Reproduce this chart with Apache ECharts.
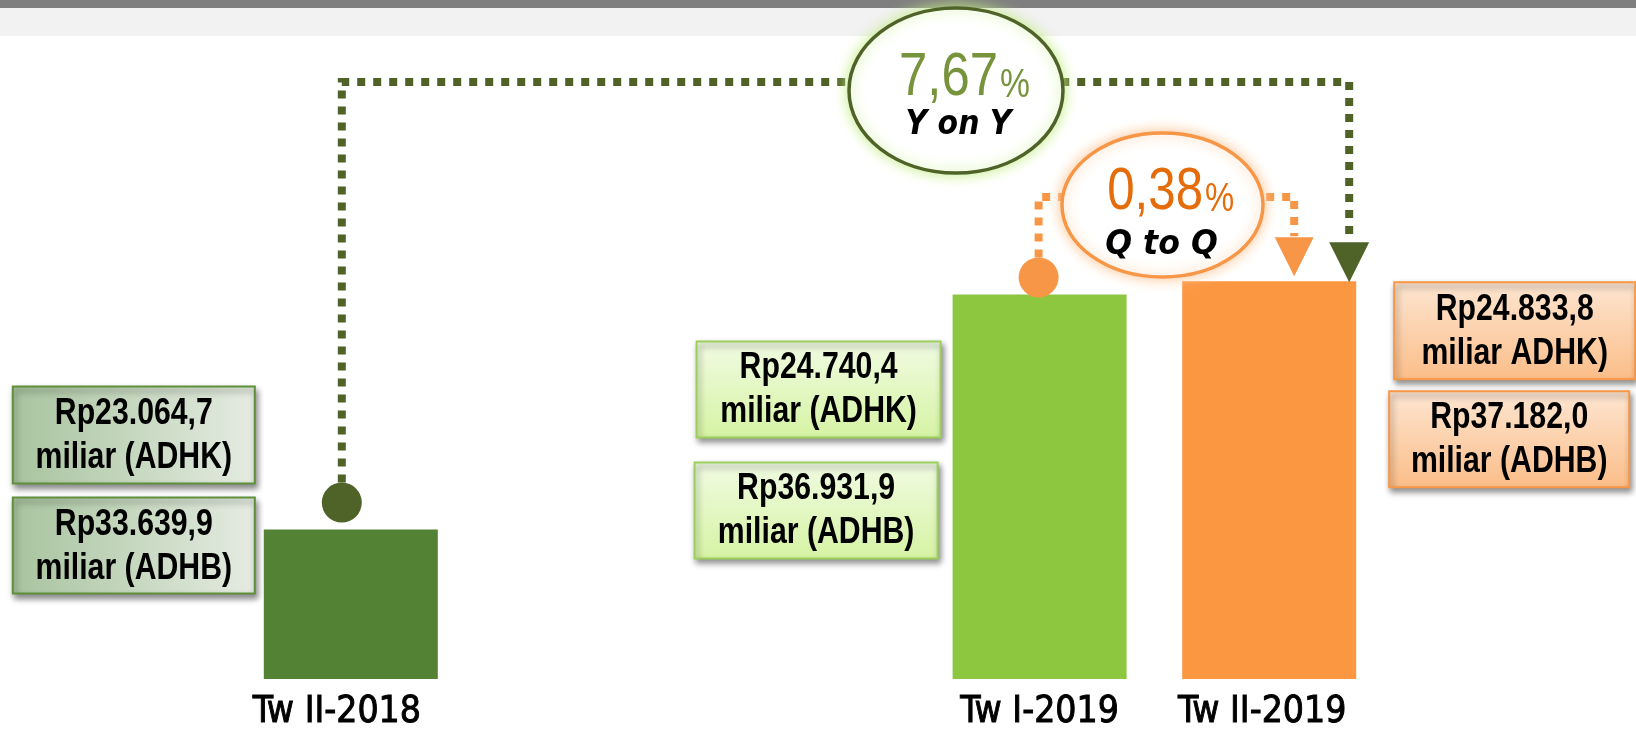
<!DOCTYPE html>
<html>
<head>
<meta charset="utf-8">
<script src="https://cdn.jsdelivr.net/npm/echarts@6/dist/echarts.min.js"></script>
<style>
  html, body { margin: 0; padding: 0; background: #fff; }
  #chart { width: 1636px; height: 734px; }
</style>
</head>
<body>
<div id="chart"></div>
<script>
// quarters (blank slots keep the gap between 2018 and 2019)
const categories = ['Tw II-2018', '', '', 'Tw I-2019', 'Tw II-2019'];
// PDRB, miliar rupiah
const adhkValues = [23064.7, null, null, 24740.4, 24833.8];
const adhbValues = [33639.9, null, null, 36931.9, 37182.0];
const adhkNotes = ['miliar (ADHK)', '', '', 'miliar (ADHK)', 'miliar ADHK)'];
const adhbNotes = ['miliar (ADHB)', '', '', 'miliar (ADHB)', 'miliar (ADHB)'];
const yoyLabel = 'Y on Y';
const qtqLabel = 'Q to Q';

const SANS = "'Liberation Sans',Arial,sans-serif";
const COND = "'DejaVu Sans Condensed','Liberation Sans',sans-serif";
const BOLDIT = "'DejaVu Sans',Verdana,sans-serif";
const barColors = ['#548235', null, null, '#8dc63f', '#fb9741'];
const BAR_W = 174;

function rp(v) {
  const [i, d] = v.toFixed(1).split('.');
  return 'Rp' + i.replace(/\B(?=(\d{3})+(?!\d))/g, '.') + ',' + d;
}
function growth(now, before) {
  return ((now / before - 1) * 100).toFixed(2).replace('.', ',');
}

const chart = echarts.init(document.getElementById('chart'));

chart.setOption({
  animation: false,
  grid: { left: 236, right: 252, top: 258, bottom: 55 },
  xAxis: {
    type: 'category',
    data: categories.map((c, i) => ({
      value: c,
      // the printed labels sit a little left of their bars
      textStyle: { padding: [0, i === 0 ? 28 : (i === 4 ? 14 : 0), 0, 0] }
    })),
    axisLine: { show: false },
    axisTick: { show: false },
    axisLabel: {
      interval: 0,
      margin: 15,
      color: '#000',
      fontSize: 37,
      fontFamily: COND,
      textBorderColor: '#000',
      textBorderWidth: 0.9
    }
  },
  yAxis: {
    type: 'value',
    min: 22000,
    max: 25000,
    show: false,
    splitLine: { show: false }
  },
  series: [{
    type: 'bar',
    barWidth: BAR_W,
    data: adhkValues.map((v, i) => v == null ? null : { value: v, itemStyle: { color: barColors[i] } })
  }]
});

// pixel anchors of the three bars (top centre)
const px = i => chart.convertToPixel({ gridIndex: 0 }, [i, adhkValues[i]]);
const b1 = px(0), b2 = px(3), b3 = px(4);
const half = BAR_W / 2;

const greenBox = {
  type: 'linear', x: 0, y: 0, x2: 1, y2: 0,
  colorStops: [{ offset: 0, color: '#a8c39e' }, { offset: 1, color: '#e5ece2' }]
};
const limeBox = {
  type: 'linear', x: 0, y: 0, x2: 0, y2: 1,
  colorStops: [{ offset: 0, color: '#f0fbe3' }, { offset: 1, color: '#d6f3a3' }]
};
const orangeBox = {
  type: 'linear', x: 0, y: 0, x2: 0, y2: 1,
  colorStops: [{ offset: 0, color: '#fde6d2' }, { offset: 1, color: '#fbbd88' }]
};

function box(x, y, w, h, fill, stroke, text) {
  return {
    type: 'group', x: x, y: y, z: 100,
    children: [
      {
        type: 'rect', shape: { x: 0, y: 0, width: w, height: h },
        style: {
          fill: fill, stroke: stroke, lineWidth: 2,
          shadowBlur: 6, shadowOffsetX: 2, shadowOffsetY: 4, shadowColor: 'rgba(0,0,0,0.45)'
        }
      },
      {
        type: 'text', x: w / 2, y: h / 2 + 1, scaleX: 0.84,
        style: {
          text: text, fill: '#000', font: 'bold 36px ' + SANS, lineHeight: 44,
          textAlign: 'center', textVerticalAlign: 'middle', align: 'center', verticalAlign: 'middle'
        }
      }
    ]
  };
}

function label(x, y, text, font, color, align, sx) {
  return {
    type: 'text', x: x, y: y, z: 120, scaleX: sx,
    style: {
      text: text, font: font, fill: color,
      textAlign: align, textVerticalAlign: 'middle', align: align, verticalAlign: 'middle'
    }
  };
}

const dashG = { stroke: '#4f6228', lineWidth: 8, lineDash: [8, 8], fill: null };
const dashO = { stroke: '#f79646', lineWidth: 8, lineDash: [8, 8], fill: null };

const graphics = [
  // page bands
  { type: 'rect', z: 0, shape: { x: 0, y: 0, width: 1636, height: 8 }, style: { fill: '#7f7f7f' } },
  { type: 'rect', z: 0, shape: { x: 0, y: 8, width: 1636, height: 28 }, style: { fill: '#f2f2f2' } },

  // Y on Y connector
  {
    type: 'polyline', z: 90,
    shape: { points: [[b1[0] - 9, b1[1] - 47], [b1[0] - 9, 82], [b3[0] + 80, 82], [b3[0] + 80, b3[1] - 40]] },
    style: dashG
  },
  { type: 'circle', z: 91, shape: { cx: b1[0] - 9, cy: b1[1] - 27, r: 20 }, style: { fill: '#4f6228' } },
  {
    type: 'polygon', z: 91,
    shape: { points: [[b3[0] + 60, b3[1] - 39], [b3[0] + 100, b3[1] - 39], [b3[0] + 80, b3[1] + 1]] },
    style: { fill: '#4f6228' }
  },

  // Q to Q connector
  {
    type: 'polyline', z: 90,
    shape: { points: [[b2[0] - 1, b2[1] - 37], [b2[0] - 1, 197], [b3[0] + 25, 197], [b3[0] + 25, b3[1] - 45]] },
    style: dashO
  },
  { type: 'circle', z: 91, shape: { cx: b2[0] - 1, cy: b2[1] - 17, r: 20 }, style: { fill: '#f79646' } },
  {
    type: 'polygon', z: 91,
    shape: { points: [[b3[0] + 5.5, b3[1] - 44], [b3[0] + 44.5, b3[1] - 44], [b3[0] + 25, b3[1] - 5]] },
    style: { fill: '#f79646' }
  },

  // bubbles
  {
    type: 'ellipse', z: 110,
    shape: { cx: 956, cy: 90.5, rx: 107, ry: 82.5 },
    style: { fill: '#fff', stroke: '#4f6228', lineWidth: 3.5, shadowBlur: 14, shadowColor: '#c4ec86' }
  },
  {
    type: 'ellipse', z: 110,
    shape: { cx: 1162.5, cy: 205, rx: 100.5, ry: 72 },
    style: { fill: '#fff', stroke: '#f79646', lineWidth: 3.5, shadowBlur: 14, shadowColor: '#fbc495' }
  },
  label(998, 78, growth(adhkValues[4], adhkValues[0]), '62px ' + SANS, '#77933c', 'right', 0.82),
  label(1000, 86, '%', '41px ' + SANS, '#77933c', 'left', 0.82),
  label(958.5, 125.5, yoyLabel, 'italic bold 34px ' + BOLDIT, '#000', 'center', 0.88),
  label(1203, 192, growth(adhkValues[4], adhkValues[3]), '60px ' + SANS, '#e46c0a', 'right', 0.82),
  label(1205, 199.5, '%', '40px ' + SANS, '#e46c0a', 'left', 0.82),
  label(1161.5, 245, qtqLabel, 'italic bold 34px ' + BOLDIT, '#000', 'center', 0.93),

  // value boxes
  box(b1[0] - half - 9 - 242, b1[1] - 143, 242, 97, greenBox, '#5f8f3b', rp(adhkValues[0]) + '\n' + adhkNotes[0]),
  box(b1[0] - half - 9 - 242, b1[1] - 32, 242, 96, greenBox, '#5f8f3b', rp(adhbValues[0]) + '\n' + adhbNotes[0]),
  box(b2[0] - half - 12 - 244, b2[1] + 47, 244, 96, limeBox, '#9ccf5b', rp(adhkValues[3]) + '\n' + adhkNotes[3]),
  box(b2[0] - half - 15 - 243, b2[1] + 168, 243, 96, limeBox, '#9ccf5b', rp(adhbValues[3]) + '\n' + adhbNotes[3]),
  box(b3[0] + half + 38, b3[1] + 1, 241, 97, orangeBox, '#f79646', rp(adhkValues[4]) + '\n' + adhkNotes[4]),
  box(b3[0] + half + 33, b3[1] + 110, 240, 96, orangeBox, '#f79646', rp(adhbValues[4]) + '\n' + adhbNotes[4])
];

chart.setOption({ graphic: { elements: graphics } });
</script>
</body>
</html>
